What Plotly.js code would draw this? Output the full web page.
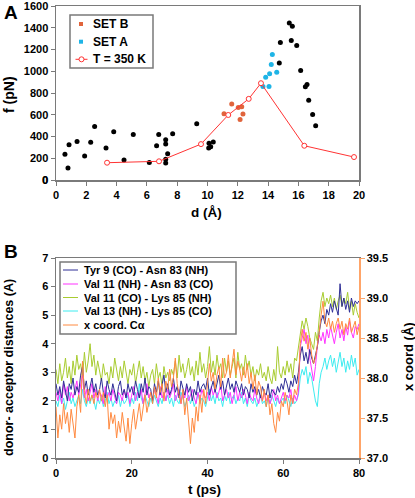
<!DOCTYPE html>
<html><head><meta charset="utf-8">
<script src="https://cdn.plot.ly/plotly-3.0.1.min.js"></script>
<style>html,body{margin:0;padding:0;background:#fff;}#chart{width:415px;height:498px;}</style>
</head><body><div id="chart"></div>
<script>
// ---------- Panel A data ----------
const otherD = [0.59,0.79,0.86,1.39,1.89,2.29,2.55,3.30,3.81,4.49,5.10,6.16,6.64,6.78,7.24,7.24,7.24,7.24,7.37,7.70,9.29,10.08,10.10,10.21,10.38,14.74,14.81,15.40,15.53,15.60,15.89,16.15,16.46,16.57,16.68,16.94,17.14];
const otherF = [236,110,324,355,220,346,493,294,444,184,419,162,315,419,370,330,190,156,242,425,517,294,337,306,349,1077,1264,1444,1282,1414,1236,1007,857,878,734,603,499];
const setBD = [11.09,11.60,12.03,12.26,12.34,12.15];
const setBF = [609,700,667,673,606,557];
const setAD = [13.66,13.84,14.06,14.10,14.21,14.28,14.57];
const setAF = [860,945,860,976,1062,1154,991];
const t350D = [3.37,6.80,9.57,11.37,12.72,13.53,16.39,19.67];
const t350F = [159,172,330,598,746,890,315,211];
const originLabel = '0';

// ---------- Panel B data (sampled every 0.5 ps, 0..80 ps) ----------
const tStep = 0.5;
const tyr9 = [
2.6,2.2,2.5,2.1,2.7,2.3,2.0,2.6,2.4,2.8,
2.2,2.5,2.3,2.9,3.2,2.4,2.7,2.2,2.5,2.8,
2.3,2.6,2.2,2.4,2.8,2.3,2.1,2.7,2.4,2.2,
2.6,2.3,2.0,2.5,2.7,2.2,2.4,2.1,2.6,2.3,
2.5,2.2,2.7,2.4,2.1,2.6,2.3,2.8,2.2,2.5,
2.4,2.0,2.6,2.3,2.7,2.2,2.5,2.9,2.3,2.6,
2.2,2.4,2.8,2.3,2.5,2.1,2.7,2.4,2.2,2.6,
2.3,2.5,2.0,2.4,2.2,2.7,2.3,2.5,2.6,2.4,
2.8,2.2,2.5,2.7,2.3,2.6,2.9,2.4,2.7,2.2,
2.5,2.8,2.4,2.6,2.3,2.7,2.5,2.3,2.6,2.2,
2.5,2.4,2.1,2.6,2.3,2.5,2.2,2.4,2.1,2.5,
2.3,2.2,2.6,2.1,2.4,2.3,2.2,2.5,2.3,2.6,
2.4,2.8,2.6,2.3,2.7,2.5,2.9,2.6,3.0,3.6,
3.9,3.4,3.7,3.3,3.8,3.5,3.3,3.6,3.9,4.4,
4.8,5.0,4.7,5.2,5.0,5.4,5.1,5.5,5.2,5.0,
6.1,5.3,5.6,5.2,5.5,5.1,5.6,5.3,5.5,5.4,
5.5];
const val11nh = [
2.3,2.0,2.4,1.9,2.6,2.2,2.5,2.0,2.3,2.1,
2.4,2.7,2.2,2.5,2.9,2.1,2.4,2.0,2.3,2.6,
2.1,2.4,2.0,2.3,2.2,1.9,2.5,2.1,2.3,2.0,
2.4,2.1,1.9,2.3,2.2,2.0,2.4,2.1,2.3,1.9,
2.2,2.5,2.0,2.3,2.1,2.4,1.9,2.2,2.6,2.1,
2.3,2.0,2.4,2.2,1.9,2.5,2.1,2.3,2.0,2.4,
2.1,2.3,2.6,2.0,2.2,2.4,1.9,2.3,2.1,2.5,
2.0,2.2,2.4,2.1,1.9,2.3,2.0,2.4,2.2,2.1,
2.3,2.0,2.5,2.2,2.4,2.1,2.3,2.6,2.0,2.2,
2.4,2.1,2.3,1.9,2.2,2.5,2.0,2.3,2.1,2.4,
2.2,1.9,2.3,2.1,2.0,2.4,2.1,1.9,2.2,2.0,
2.3,2.0,2.2,1.9,2.1,2.4,2.0,2.2,1.9,2.1,
2.3,2.0,2.2,2.1,2.4,1.9,2.2,2.0,2.3,3.9,
4.2,4.5,4.0,4.3,3.5,3.0,2.7,3.2,3.9,4.3,
4.1,4.4,4.0,4.5,4.2,4.6,4.3,4.0,4.4,4.7,
4.2,4.5,4.1,4.6,4.3,4.8,4.4,4.2,4.6,4.5,
4.7];
const val11co = [
3.1,2.6,3.3,2.7,3.0,3.5,2.8,3.2,2.6,3.4,
2.9,3.6,3.1,3.3,2.8,3.7,3.0,3.4,4.0,3.2,
3.6,2.9,3.4,3.1,2.7,3.3,2.9,3.0,2.6,3.2,
2.8,3.5,3.0,2.7,3.2,2.8,3.4,2.9,2.6,3.1,
2.9,3.3,2.6,3.0,3.4,2.8,3.2,2.7,3.0,2.5,
2.9,3.1,2.6,3.3,2.8,3.0,2.5,3.2,2.8,3.0,
2.7,3.1,2.9,3.4,2.8,3.6,3.0,3.3,2.8,3.1,
3.5,2.9,3.2,2.7,3.4,2.9,3.7,3.0,3.3,2.8,
3.2,3.9,3.0,3.4,2.9,3.6,3.1,3.3,2.8,3.5,
3.0,3.4,2.9,3.2,3.5,2.8,3.7,3.1,3.3,2.9,
3.6,3.1,3.4,2.9,3.2,2.7,3.1,2.9,3.3,2.8,
3.0,2.7,3.2,2.8,2.6,3.1,2.7,3.9,3.0,2.8,
3.2,2.9,3.4,3.0,3.3,2.8,3.5,3.4,3.9,4.3,
4.8,4.5,4.9,4.6,4.2,4.0,3.8,4.4,4.1,4.9,
5.5,5.8,5.3,5.6,5.4,5.7,5.3,5.6,5.2,5.5,
5.7,5.3,5.6,5.4,5.8,5.2,5.5,5.0,5.4,5.1,
4.9];
const val13nh = [
2.0,1.8,2.2,1.9,2.1,1.7,2.0,2.3,1.9,2.1,
1.8,2.0,2.2,1.9,2.4,2.0,1.8,2.1,1.9,2.2,
2.0,1.7,2.1,1.9,2.2,1.8,2.0,2.3,1.9,2.1,
1.8,2.0,1.9,2.2,1.8,2.1,1.9,2.0,2.2,1.8,
2.1,1.9,2.3,2.0,2.6,2.1,1.9,2.2,2.0,1.8,
2.1,1.9,2.2,2.0,1.8,2.1,1.9,2.3,2.0,2.2,
1.9,2.1,1.8,2.2,2.0,1.9,2.3,2.1,1.8,2.0,
2.2,1.9,2.1,1.8,2.0,2.3,1.9,2.1,2.0,1.8,
2.1,2.4,2.0,2.2,1.9,2.3,2.0,2.1,1.8,2.2,
2.0,2.3,1.9,2.1,2.2,1.9,2.1,2.0,2.3,1.9,
2.1,1.8,2.2,2.0,1.9,2.1,1.8,2.0,2.2,1.9,
2.0,1.8,2.1,1.9,2.2,2.0,1.8,2.1,1.9,2.0,
2.1,1.9,2.2,2.0,1.8,2.1,1.9,2.0,2.2,2.8,
3.1,2.9,3.2,2.6,3.0,2.8,2.4,2.0,1.8,2.6,
3.0,3.2,3.5,3.1,3.4,3.6,3.2,3.5,3.0,3.4,
3.7,3.2,3.5,3.0,3.4,3.1,3.6,3.2,3.5,2.9,
3.1];
// x coordinate of C-alpha (right axis, Å)
const xCoordCa = [
37.64,37.25,37.54,37.36,37.68,37.43,37.57,37.32,37.61,37.46,
37.25,37.64,37.79,37.57,38.21,37.82,37.68,37.86,37.71,37.79,
37.68,37.82,37.75,37.86,37.71,37.82,37.64,37.79,37.36,37.57,
37.43,37.54,37.25,37.46,37.32,37.57,37.39,37.21,37.50,37.18,
37.43,37.61,37.36,37.54,37.68,37.46,37.64,37.79,37.57,37.71,
37.82,37.68,37.89,37.75,38.00,37.82,37.93,37.71,37.96,37.86,
38.11,37.89,38.00,38.25,37.93,37.79,37.68,37.86,37.54,37.75,
37.43,37.18,37.50,37.32,37.64,37.46,37.79,37.57,37.86,37.68,
37.93,38.18,37.96,38.07,37.86,38.04,38.14,37.89,38.25,38.00,
38.07,38.29,38.00,38.18,38.36,38.04,38.21,38.11,37.96,38.14,
38.00,38.18,37.93,38.07,37.86,38.04,37.79,37.96,37.89,37.71,
37.86,37.64,37.79,37.54,37.68,37.43,37.32,37.57,37.46,37.71,
37.64,37.82,37.71,37.54,37.79,37.68,37.86,37.79,37.93,38.43,
38.61,38.46,38.57,38.36,38.50,38.29,38.18,38.25,38.39,38.57,
38.79,38.96,38.71,38.64,38.75,38.61,38.71,38.57,38.68,38.75,
38.61,38.71,38.54,38.68,38.61,38.75,38.57,38.64,38.71,38.54,
38.64];

const legendALabels = ['SET B','SET A','T = 350 K'];
const legendBLabels = ['Tyr 9 (CO) - Asn 83 (NH)','Val 11 (NH) - Asn 83 (CO)','Val 11 (CO) - Lys 85 (NH)','Val 13 (NH) - Lys 85 (CO)','x coord. C\u03b1'];

// ---------- styles ----------
const COL = {black:'#000000', setB:'#e0643c', setA:'#1eb4e6', red:'#ff3333',
  navy:'#2e2e96', magenta:'#ff33ff', green:'#a8cc30', cyan:'#3cecf0', orange:'#ff8a40'};
const FONT = 'Liberation Sans, Arial, Helvetica, sans-serif';
const L = 56, R = 359, TOP = 6, BOT = 458;
const px = p => (p - L) / (R - L);
const py = p => (BOT - p) / (BOT - TOP);

const tB = tyr9.map((_, i) => i * tStep);

const traces = [
  {x: otherD, y: otherF, type:'scatter', mode:'markers', marker:{color:COL.black, size:5}, xaxis:'x', yaxis:'y', showlegend:false},
  {x: setBD, y: setBF, type:'scatter', mode:'markers', marker:{color:COL.setB, size:5}, xaxis:'x', yaxis:'y', showlegend:false},
  {x: setAD, y: setAF, type:'scatter', mode:'markers', marker:{color:COL.setA, size:5}, xaxis:'x', yaxis:'y', showlegend:false},
  {x: t350D, y: t350F, type:'scatter', mode:'lines+markers', line:{color:COL.red, width:1},
    marker:{color:'#ffffff', size:5, line:{color:COL.red, width:1}}, xaxis:'x', yaxis:'y', showlegend:false},
  {x: tB, y: val11co, type:'scatter', mode:'lines', line:{color:COL.green, width:1}, xaxis:'x2', yaxis:'y2', showlegend:false},
  {x: tB, y: val13nh, type:'scatter', mode:'lines', line:{color:COL.cyan, width:1}, xaxis:'x2', yaxis:'y2', showlegend:false},
  {x: tB, y: val11nh, type:'scatter', mode:'lines', line:{color:COL.magenta, width:1}, xaxis:'x2', yaxis:'y2', showlegend:false},
  {x: tB, y: tyr9, type:'scatter', mode:'lines', line:{color:COL.navy, width:1}, xaxis:'x2', yaxis:'y2', showlegend:false},
  {x: tB, y: xCoordCa, type:'scatter', mode:'lines', line:{color:COL.orange, width:1}, xaxis:'x2', yaxis:'y3', showlegend:false}
];

const tickFont = {family:FONT, size:11, color:'#000', weight:'bold'};
const axBase = {showgrid:false, zeroline:false, showline:true, linecolor:'#7a7a7a', linewidth:1.5,
  ticks:'outside', ticklen:4, tickcolor:'#7a7a7a', tickwidth:1, tickfont:tickFont, ticklabeloverflow:'allow'};

const shapes = [];
const annotations = [];
function txt(text, x, y, size, opts) {
  annotations.push(Object.assign({text:text, xref:'paper', yref:'paper', x:px(x), y:py(y), showarrow:false,
    font:{family:FONT, size:size, color:'#000', weight:'bold'}, xanchor:'center', yanchor:'middle'}, opts||{}));
}
// panel letters and axis titles
txt('<b>A</b>', 2, 12, 19, {xanchor:'left'});
txt('<b>B</b>', 2, 251, 19, {xanchor:'left'});
txt('<b>f (pN)</b>', 9, 95, 14, {textangle:-90});
txt('<b>d (Å)</b>', 206, 212, 13.5);
txt('<b>donor- acceptor distances (A)</b>', 9, 368, 12.5, {textangle:-90});
txt('<b>t (ps)</b>', 204, 489, 13.5);
txt('<b>x coord (Å)</b>', 408, 357, 13, {textangle:-90});

// y-axis origin label of panel A
txt('<b>' + originLabel + '</b>', 50, 180, 11, {xanchor:'right'});

// legend A
shapes.push({type:'rect', xref:'paper', yref:'paper', x0:px(70), x1:px(153), y0:py(15), y1:py(68),
  line:{color:'#7a7a7a', width:1.5}, fillcolor:'#ffffff', layer:'above'});
const legAY = [24, 41.7, 59.3];
const legAColors = [COL.setB, COL.setA];
legAColors.forEach((c, i) => {
  shapes.push({type:'rect', xref:'paper', yref:'paper', x0:px(79), x1:px(83), y0:py(legAY[i]-2), y1:py(legAY[i]+2),
    line:{width:0}, fillcolor:c, layer:'above'});
});
shapes.push({type:'line', xref:'paper', yref:'paper', x0:px(75.5), x1:px(87.5), y0:py(legAY[2]), y1:py(legAY[2]),
  line:{color:COL.red, width:1}, layer:'above'});
shapes.push({type:'circle', xref:'paper', yref:'paper', x0:px(79), x1:px(84), y0:py(legAY[2]-2.5), y1:py(legAY[2]+2.5),
  line:{color:COL.red, width:1}, fillcolor:'#ffffff', layer:'above'});
legendALabels.forEach((s, i) => txt('<b>' + s + '</b>', 91, legAY[i], 12, {xanchor:'left'}));

// legend B
shapes.push({type:'rect', xref:'paper', yref:'paper', x0:px(60), x1:px(236), y0:py(262), y1:py(334),
  line:{color:'#7a7a7a', width:1.5}, fillcolor:'#ffffff', layer:'above'});
const legBY = [270, 284, 297.5, 311, 325];
const legBColors = [COL.navy, COL.magenta, COL.green, COL.cyan, COL.orange];
legendBLabels.forEach((s, i) => {
  shapes.push({type:'line', xref:'paper', yref:'paper', x0:px(63), x1:px(78), y0:py(legBY[i]), y1:py(legBY[i]),
    line:{color:legBColors[i], width:1}, layer:'above'});
  txt('<b>' + s + '</b>', 82, legBY[i], 11, {xanchor:'left'});
});

const layout = {
  width:415, height:498, paper_bgcolor:'#ffffff', plot_bgcolor:'#ffffff',
  margin:{l:L, r:415-R, t:TOP, b:498-BOT, pad:0},
  font:{family:FONT, size:11, color:'#000'},
  showlegend:false,
  xaxis: Object.assign({}, axBase, {domain:[0,1], anchor:'y', range:[0,20], dtick:2, tick0:0, mirror:true}),
  yaxis: Object.assign({}, axBase, {domain:[py(180),1], anchor:'x', range:[0,1600], dtick:200, tick0:0, mirror:true}),
  xaxis2: Object.assign({}, axBase, {domain:[0,1], anchor:'y2', range:[0,80], dtick:20, tick0:0, mirror:true}),
  yaxis2: Object.assign({}, axBase, {domain:[0,py(258)], anchor:'x2', range:[0,7], dtick:1, tick0:0}),
  yaxis3: Object.assign({}, axBase, {overlaying:'y2', side:'right', anchor:'x2', range:[37,39.5], dtick:0.5, tick0:37,
    tickformat:'.1f', linecolor:'#ffa468', tickcolor:'#ffa468'}),
  shapes: shapes,
  annotations: annotations
};

Plotly.newPlot('chart', traces, layout, {displayModeBar:false, staticPlot:true});
</script>
</body></html>
